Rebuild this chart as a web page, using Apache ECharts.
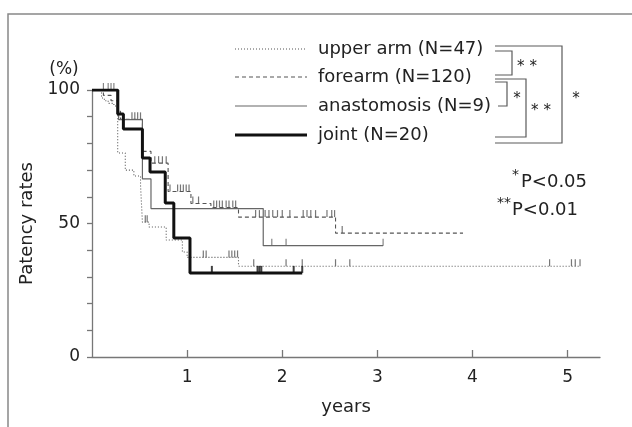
<!DOCTYPE html>
<html>
<head>
<meta charset="utf-8">
<script src="https://cdn.jsdelivr.net/npm/echarts@6/dist/echarts.min.js"></script>
<style>
  html, body { margin: 0; padding: 0; background: #fff; }
  #chart { width: 632px; height: 427px; }
</style>
</head>
<body>
<div id="chart"></div>
<script>
// Kaplan-Meier patency curves (time in years, patency in %)
const upperArmT = [0, 0.10, 0.13, 0.17, 0.23, 0.27, 0.35, 0.44, 0.51, 0.53, 0.60, 0.78, 0.95, 1.00, 1.54, 5.13];
const upperArmP = [100, 97, 96, 95, 94, 76.4, 70, 67.8, 64.4, 50.5, 48.7, 43.8, 39.3, 37.3, 34, 34];

const forearmT = [0, 0.12, 0.20, 0.27, 0.30, 0.53, 0.62, 0.80, 1.04, 1.25, 1.54, 2.56, 3.90];
const forearmP = [100, 98, 96, 92, 89, 77, 72.6, 62, 57.5, 56, 52.4, 46.4, 46.4];

const anastomosisT = [0, 0.28, 0.53, 0.62, 1.80, 3.06];
const anastomosisP = [100, 88.9, 66.7, 55.6, 41.7, 41.7];

const jointT = [0, 0.27, 0.33, 0.53, 0.61, 0.77, 0.86, 1.03, 2.21];
const jointP = [100, 91, 85.4, 74.5, 69.3, 57.7, 44.6, 31.5, 31.5];

// Censored observations (years)
const upperArmCensor = [0.56, 0.58, 1.17, 1.20, 1.44, 1.47, 1.50, 1.53, 1.70, 2.04, 2.21, 2.56, 2.71, 4.81, 5.04, 5.08, 5.13];
const forearmCensor = [0.42, 0.45, 0.48, 0.51, 0.66, 0.70, 0.74, 0.78, 0.82, 0.90, 0.93, 0.96, 0.99, 1.02, 1.06, 1.12,
  1.28, 1.31, 1.34, 1.37, 1.41, 1.44, 1.48, 1.51, 1.72, 1.76, 1.82, 1.86, 1.90, 1.95, 2.00, 2.08,
  2.22, 2.26, 2.30, 2.35, 2.47, 2.52, 2.55, 2.63];
const anastomosisCensor = [0.12, 0.17, 0.20, 0.23, 1.89, 2.04, 3.06];
const jointCensor = [1.26, 1.74, 1.76, 1.78, 2.12, 2.21];

const groupNames = ['upper arm (N=47)', 'forearm (N=120)', 'anastomosis (N=9)', 'joint (N=20)'];
const xTickLabels = [1, 2, 3, 4, 5];
const yTickLabels = [0, 50, 100];

const FONT = 'DejaVu Sans, Liberation Sans, sans-serif';
const INK = '#222';
const GRAY = '#5a5a5a';

const styles = [
  { color: '#555', width: 1.1, type: [1, 2] },
  { color: '#555', width: 1.1, type: [4, 3] },
  { color: '#666', width: 1.2, type: 'solid' },
  { color: '#111', width: 3, type: 'solid' }
];

function pairs(T, P) { return T.map((t, i) => [t, P[i]]); }
function valueAt(T, P, t) {
  let v = P[0];
  for (let i = 0; i < T.length; i++) { if (T[i] <= t + 1e-9) v = P[i]; }
  return v;
}
function censorPts(C, T, P) { return C.map(t => [t, valueAt(T, P, t)]); }

const curves = [
  [upperArmT, upperArmP, upperArmCensor],
  [forearmT, forearmP, forearmCensor],
  [anastomosisT, anastomosisP, anastomosisCensor],
  [jointT, jointP, jointCensor]
];

const series = [];
curves.forEach((c, i) => {
  series.push({
    name: groupNames[i], type: 'line', step: 'end', symbol: 'none',
    data: pairs(c[0], c[1]),
    lineStyle: { color: styles[i].color, width: styles[i].width, type: styles[i].type },
    z: i === 3 ? 5 : 3
  });
  series.push({
    type: 'scatter', symbol: 'rect',
    symbolSize: [i === 3 ? 2 : 1.2, 7], symbolOffset: [0, -3.5],
    itemStyle: { color: styles[i].color },
    data: censorPts(c[2], c[0], c[1]),
    z: 4
  });
});

// Legend rows and significance brackets
const legendY = [49, 77, 106, 135];
const graphic = [
  { type: 'rect', shape: { x: 8, y: 14, width: 700, height: 500 }, style: { fill: 'none', stroke: '#888', lineWidth: 1.5 } },
  { type: 'text', x: 64, y: 70, style: { text: '(%)', font: '17px ' + FONT, fill: INK, align: 'center', verticalAlign: 'middle' } }
];
legendY.forEach((y, i) => {
  graphic.push({ type: 'line', shape: { x1: 235, y1: y, x2: 307, y2: y },
    style: { stroke: styles[i].color, lineWidth: styles[i].width, lineDash: Array.isArray(styles[i].type) ? styles[i].type : null } });
  graphic.push({ type: 'text', x: 318, y: y, style: { text: groupNames[i], font: '18px ' + FONT, fill: INK, verticalAlign: 'middle' } });
});
function bracket(y1, y2, xr, xl1, xl2) {
  graphic.push({ type: 'polyline', shape: { points: [[xl1, y1], [xr, y1], [xr, y2], [xl2, y2]] },
    style: { stroke: GRAY, lineWidth: 1.2, fill: 'none' } });
}
bracket(51, 75, 512, 495, 495);
bracket(46, 143, 562, 495, 495);
bracket(82, 106, 507, 495, 498);
bracket(79, 137, 526, 495, 495);
function star(x, y, s) {
  graphic.push({ type: 'text', x: x, y: y, style: { text: s, font: '15px ' + FONT, fill: INK, align: 'center', verticalAlign: 'middle' } });
}
star(527, 67, '* *');
star(576, 99, '*');
star(517, 99, '*');
star(541, 111, '* *');
graphic.push({ type: 'text', x: 519, y: 175, style: { text: '*', font: '14px ' + FONT, fill: INK, align: 'right', verticalAlign: 'middle' } });
graphic.push({ type: 'text', x: 521, y: 182, style: { text: 'P<0.05', font: '18px ' + FONT, fill: INK, verticalAlign: 'middle' } });
graphic.push({ type: 'text', x: 511, y: 203, style: { text: '**', font: '14px ' + FONT, fill: INK, align: 'right', verticalAlign: 'middle' } });
graphic.push({ type: 'text', x: 512, y: 210, style: { text: 'P<0.01', font: '18px ' + FONT, fill: INK, verticalAlign: 'middle' } });

const axisLineStyle = { color: '#777', width: 1.3 };
const option = {
  animation: false,
  backgroundColor: '#fff',
  grid: { left: 92, right: 32, top: 90, bottom: 70, containLabel: false, outerBoundsMode: 'none' },
  xAxis: {
    type: 'value', min: 0, max: 5.34,
    axisLine: { show: true, lineStyle: axisLineStyle },
    axisTick: { show: true, inside: true, length: 7, customValues: xTickLabels, lineStyle: axisLineStyle },
    axisLabel: { customValues: xTickLabels, fontSize: 17, fontFamily: FONT, color: INK, margin: 12 },
    splitLine: { show: false },
    name: 'years', nameLocation: 'middle', nameGap: 41,
    nameTextStyle: { fontSize: 18, fontFamily: FONT, color: INK }
  },
  yAxis: {
    type: 'value', min: 0, max: 100, interval: 10,
    axisLine: { show: true, lineStyle: axisLineStyle },
    axisTick: { show: true, length: 5, lineStyle: axisLineStyle },
    axisLabel: { customValues: yTickLabels, fontSize: 17, fontFamily: FONT, color: INK, margin: 12 },
    splitLine: { show: false },
    name: 'Patency rates', nameLocation: 'middle', nameGap: 48, nameRotate: 90,
    nameTextStyle: { fontSize: 18, fontFamily: FONT, color: INK }
  },
  series: series,
  graphic: graphic
};

const chart = echarts.init(document.getElementById('chart'), null, { renderer: 'canvas' });
chart.setOption(option);
</script>
</body>
</html>
